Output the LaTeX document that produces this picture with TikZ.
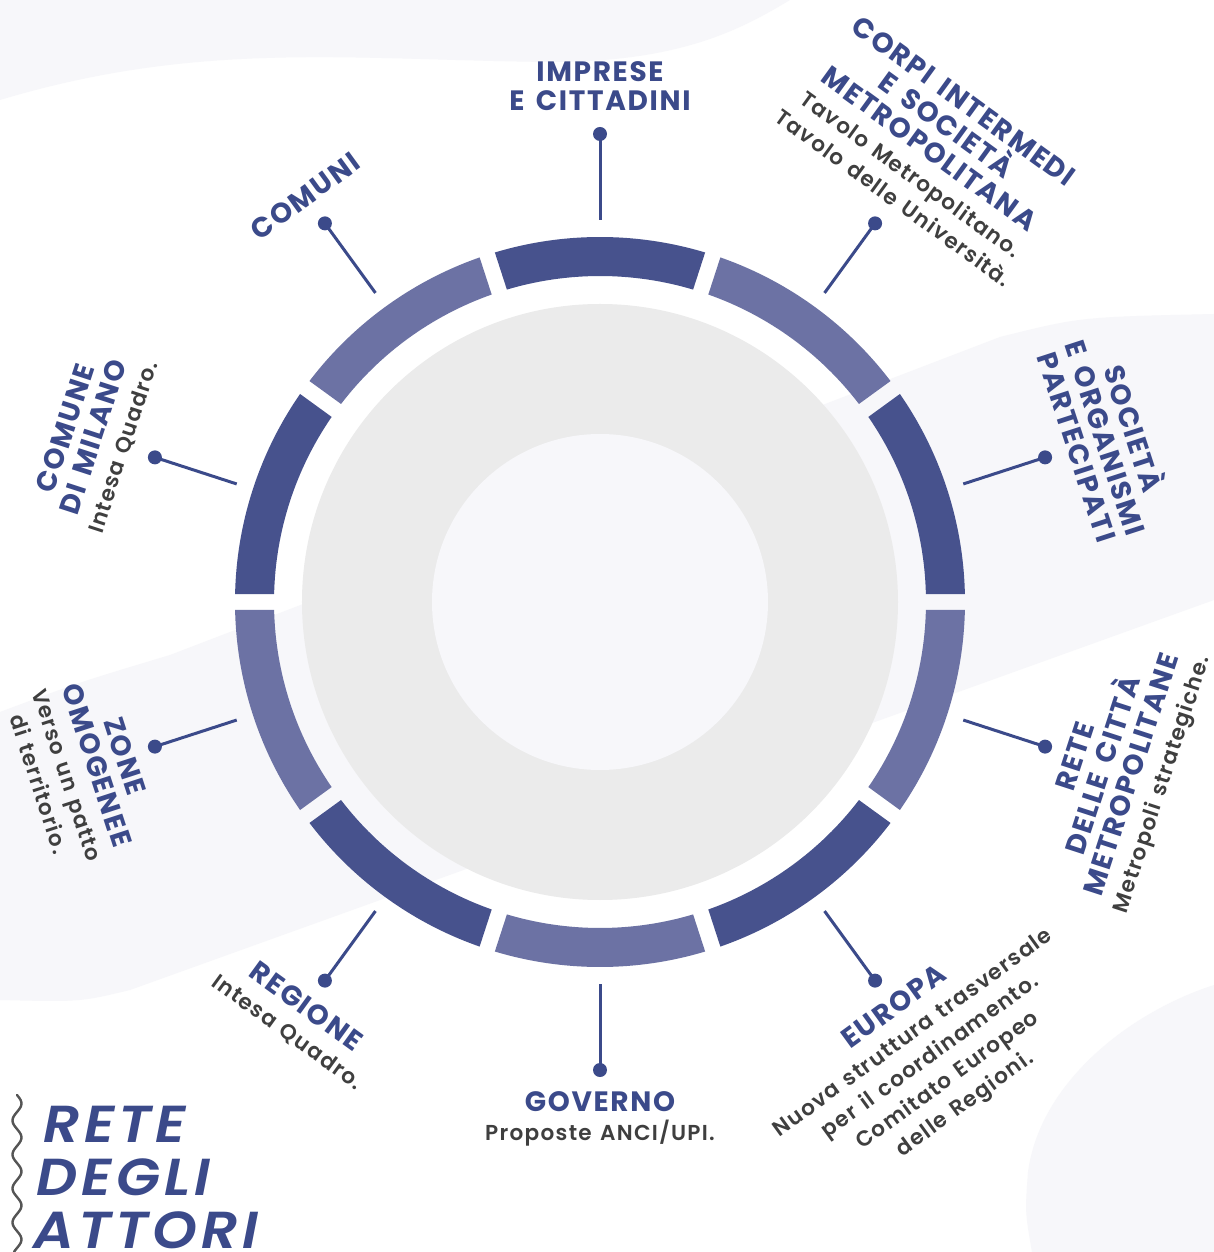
\documentclass[tikz,border=0pt]{standalone}
\usepackage{fontspec}
\setmainfont{Poppins}
\newfontfamily\hfont{Poppins}[LetterSpace=6, WordSpace=1.5]
\newfontfamily\dfont{Poppins ExtraLight}[LetterSpace=6, WordSpace=1.3]
\newfontfamily\bigfont{Poppins SemiBold Italic}[LetterSpace=8, FakeStretch=1.1]

\definecolor{navy}{HTML}{3B4A8A}
\definecolor{segdark}{HTML}{47528D}
\definecolor{seglight}{HTML}{6C72A4}
\definecolor{disc}{HTML}{EBEBEB}
\definecolor{haze}{HTML}{F7F7FA}
\definecolor{txt}{HTML}{3F3F3F}
\definecolor{wave}{HTML}{555555}

\newcommand\hd{\fontsize{14}{14.7}\selectfont\hfont\bfseries}
\newcommand\ds{\fontsize{10.8}{14}\selectfont\dfont\color{txt}}
\newcommand\bigt{\fontsize{26}{28}\selectfont\bigfont\color{navy}}

\tikzset{
  lbl/.style={align=center, inner sep=0pt, font=\hd, text=navy},
  dot/.style={circle, fill=navy, minimum size=7pt, inner sep=0pt},
  link/.style={draw=navy, line width=1.5pt},
  headline/.style={inner sep=0pt, font=\bigt, anchor=base west},
}

\begin{document}
\begin{tikzpicture}[x=0.5pt, y=0.5pt]
  \useasboundingbox (-600,-650) rectangle (614,602);
  \fill[white] (-600,-650) rectangle (614,602);

  % soft background shapes
  \fill[haze] (-600,602) -- (-600,502) .. controls (-400,562) and (-250,542) .. (-50,540)
      .. controls (80,540) and (140,572) .. (190,602) -- cycle;
  \fill[haze] (-600,-110) .. controls (-520,-80) .. (-430,-53) -- (400,265)
      .. controls (480,285) .. (614,288) -- (614,2) -- (-470,-388)
      .. controls (-520,-400) .. (-600,-398) -- cycle;
  \fill[haze] (614,-383) .. controls (530,-410) and (440,-480) .. (428,-570)
      .. controls (425,-610) .. (432,-650) -- (614,-650) -- cycle;

  % central disc
  \fill[disc] (0,0) circle[radius=298];
  \fill[haze] (0,0) circle[radius=168];

  % segmented ring
  \foreach \i in {0,...,9}{
    \pgfmathsetmacro\a{\i*36}
    \pgfmathsetmacro\b{\i*36+36}
    \pgfmathtruncatemacro\odd{mod(\i,2)}
    \ifnum\odd=0 \def\segc{segdark}\else\def\segc{seglight}\fi
    \fill[\segc] ({\a+1.256}:365) arc[start angle={\a+1.256}, end angle={\b-1.256}, radius=365]
      -- ({\b-1.406}:326) arc[start angle={\b-1.406}, end angle={\a+1.406}, radius=326] -- cycle;
  }

  % connectors and dots
  \foreach \n/\ang in {1/90,2/54,3/18,4/-18,5/-54,6/-90,7/234,8/198,9/162,10/126}{
    \coordinate (e\n) at (\ang:382);
    \node[dot] (d\n) at (\ang:468) {};
    \draw[link] (e\n) -- (d\n.center);
  }

  % labels
  \node[lbl, anchor=south, rotate=0] (l1) at (90:491) {IMPRESE\\E CITTADINI};
  \node[lbl, anchor=south, rotate=-36] (l2) at (54:491)
    {CORPI INTERMEDI\\E SOCIETÀ\\METROPOLITANA\\{\ds Tavolo Metropolitano.}\\{\ds Tavolo delle Università.}};
  \node[lbl, anchor=south, rotate=-72] (l3) at (18:491) {SOCIETÀ\\E ORGANISMI\\PARTECIPATI};
  \node[lbl, anchor=north, rotate=72] (l4) at (-18:489)
    {RETE\\DELLE CITTÀ\\METROPOLITANE\\{\ds Metropoli strategiche.}};
  \node[lbl, anchor=north, rotate=36] (l5) at (-54:489)
    {EUROPA\\{\ds Nuova struttura trasversale}\\{\ds per il coordinamento.}\\{\ds Comitato Europeo}\\{\ds delle Regioni.}};
  \node[lbl, anchor=north, rotate=0] (l6) at (-90:489) {GOVERNO\\{\ds Proposte ANCI/UPI.}};
  \node[lbl, anchor=north, rotate=-36] (l7) at (234:489) {REGIONE\\{\ds Intesa Quadro.}};
  \node[lbl, anchor=north, rotate=-72] (l8) at (198:489)
    {ZONE\\OMOGENEE\\{\ds Verso un patto}\\{\ds di territorio.}};
  \node[lbl, anchor=south, rotate=72] (l9) at (162:491) {COMUNE\\DI MILANO\\{\ds Intesa Quadro.}};
  \node[lbl, anchor=south, rotate=36] (l10) at (126:491) {COMUNI};

  % heading with wavy rule
  \draw[wave, line width=1.2pt, line cap=round]
    plot[domain=0:157, samples=90, smooth] ({-583+4.5*sin(10.588*\x)}, {-493-\x});
  \node[headline] (t1) at (-557,-540) {RETE};
  \node[headline] (t2) at (-564,-593) {DEGLI};
  \node[headline] (t3) at (-567,-646) {ATTORI};
\end{tikzpicture}
\end{document}
